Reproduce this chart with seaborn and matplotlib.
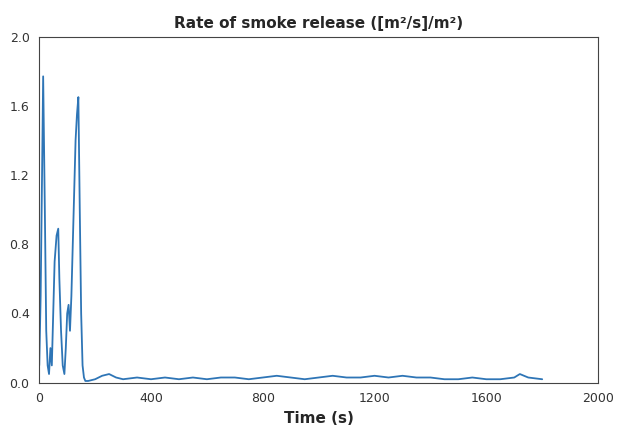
import matplotlib
matplotlib.use("Agg")
import matplotlib.pyplot as plt
import seaborn as sns
import pandas as pd

# early burning phase (s)
t_early = [0, 5, 10, 14, 20, 25, 30, 35, 40, 45, 50, 55, 62, 68, 72, 78, 84, 90, 95,
           100, 105, 110, 115, 120, 125, 130, 135, 140, 145, 150, 155, 160, 165]
v_early = [0.1, 0.5, 1.2, 1.77, 1.0, 0.3, 0.1, 0.05, 0.2, 0.1, 0.4, 0.7, 0.85, 0.89, 0.6,
           0.3, 0.1, 0.05, 0.2, 0.4, 0.45, 0.3, 0.5, 0.8, 1.1, 1.4, 1.55, 1.65, 1.0, 0.4,
           0.1, 0.03, 0.01]
# tail after flameout
t_tail = [175, 200, 225, 250, 275, 300, 350, 400, 450, 500, 550, 600, 650, 700, 750, 800,
          850, 900, 950, 1000, 1050, 1100, 1150, 1200, 1250, 1300, 1350, 1400, 1450,
          1500, 1550, 1600, 1650, 1700, 1720, 1750, 1800]
v_tail = [0.01, 0.02, 0.04, 0.05, 0.03, 0.02, 0.03, 0.02, 0.03, 0.02, 0.03, 0.02, 0.03,
          0.03, 0.02, 0.03, 0.04, 0.03, 0.02, 0.03, 0.04, 0.03, 0.03, 0.04, 0.03, 0.04,
          0.03, 0.03, 0.02, 0.02, 0.03, 0.02, 0.02, 0.03, 0.05, 0.03, 0.02]

df = pd.DataFrame({"time": t_early + t_tail, "rate": v_early + v_tail})

sns.set_style("white")
fig, ax = plt.subplots(figsize=(6.23, 4.3), dpi=100)
sns.lineplot(data=df, x="time", y="rate", color="#2e75b6", linewidth=1.3, ax=ax)

ax.set_xlim(0, 2000)
ax.set_ylim(0, 2.0)
ax.set_xticks([0, 400, 800, 1200, 1600, 2000])
ax.set_yticks([0.0, 0.4, 0.8, 1.2, 1.6, 2.0])
ax.set_yticklabels(["0.0", "0.4", "0.8", "1.2", "1.6", "2.0"])
ax.tick_params(labelsize=9, colors="#333333")
ax.set_xlabel("Time (s)", fontsize=11, fontweight="bold")
ax.set_ylabel("")
ax.set_title("Rate of smoke release ([m²/s]/m²)", fontsize=11, fontweight="bold")
for s in ax.spines.values():
    s.set_color("#444444")

plt.subplots_adjust(left=0.063, right=0.96, top=0.915, bottom=0.11)
plt.savefig("out.png", dpi=100)
